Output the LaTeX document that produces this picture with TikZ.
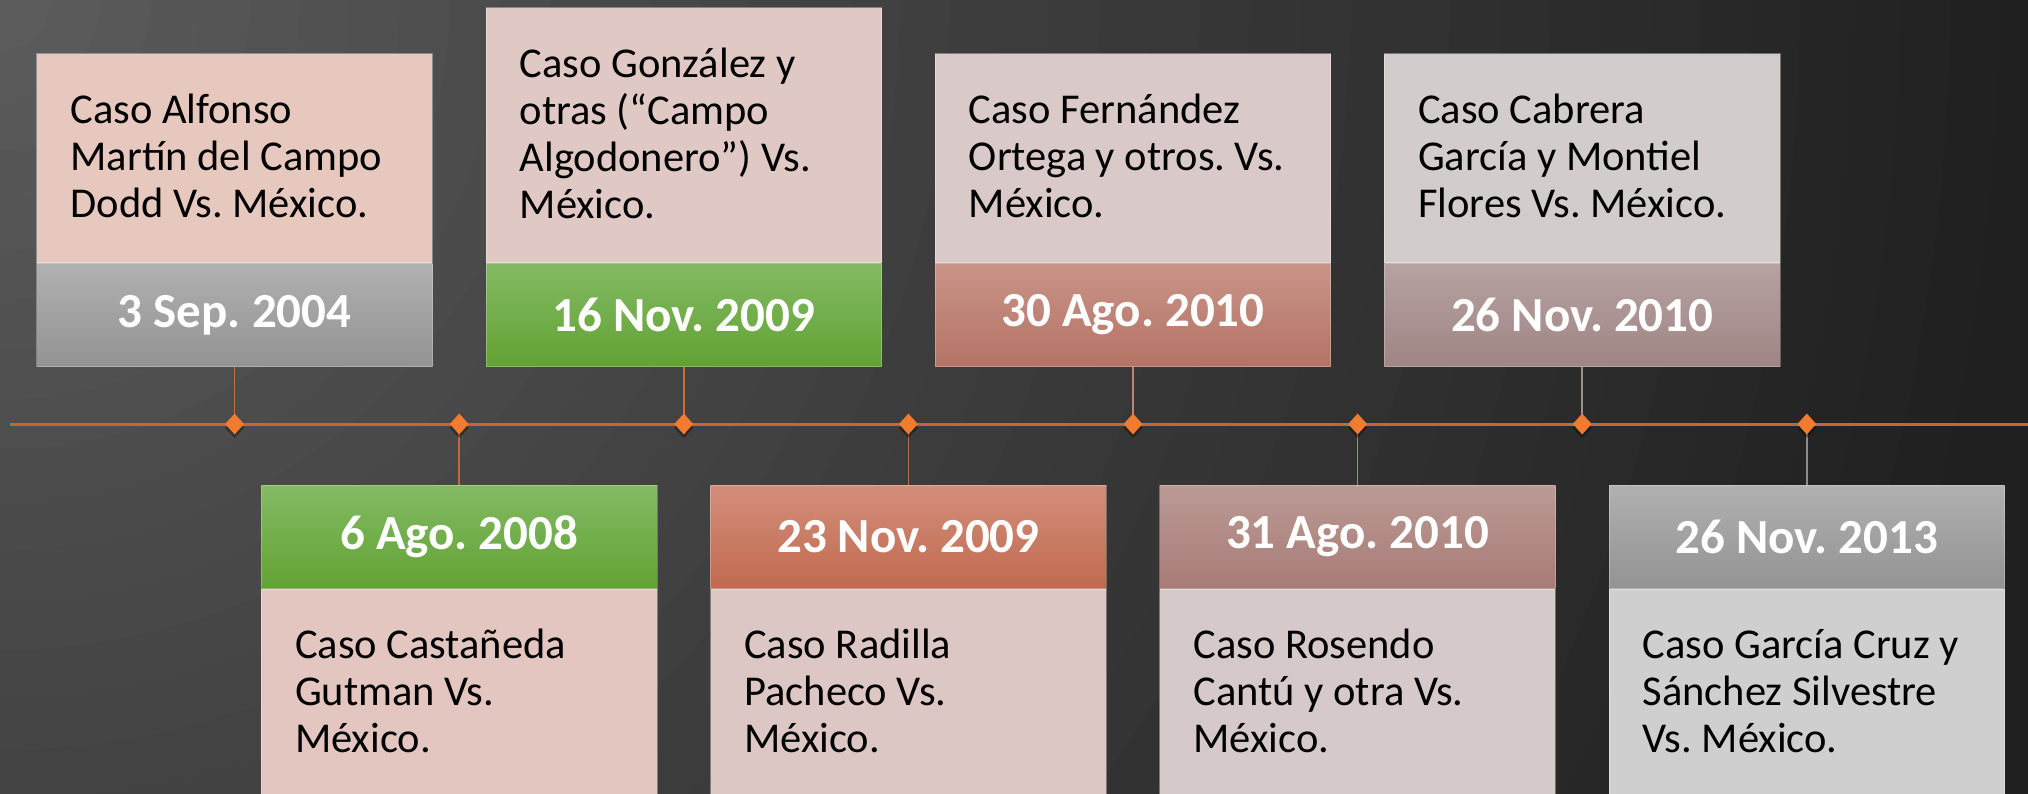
\documentclass[tikz,border=0pt]{standalone}
\usepackage{fontspec}
\setmainfont{Carlito}
\usetikzlibrary{shapes.geometric,calc}
\frenchspacing
\definecolor{tline}{HTML}{C8662E}
\definecolor{diaC}{HTML}{F27B30}
\definecolor{bgA}{HTML}{5E5E5E}
\definecolor{bgB}{HTML}{202020}
% text box fills
\definecolor{pA}{HTML}{E7C8BE}
\definecolor{pB}{HTML}{E2C6BF}
\definecolor{pC}{HTML}{E0C8C4}
\definecolor{pD}{HTML}{DDC7C4}
\definecolor{pE}{HTML}{D9C9C8}
\definecolor{pF}{HTML}{D6C9C9}
\definecolor{pG}{HTML}{D2CCCC}
\definecolor{pH}{HTML}{CFCFCF}
% band colours
\definecolor{grT}{HTML}{B0B0B0}\definecolor{grB}{HTML}{939393}
\definecolor{gnT}{HTML}{83BA64}\definecolor{gnB}{HTML}{62A233}
\definecolor{rdT}{HTML}{D38E7A}\definecolor{rdB}{HTML}{C06A4F}
\definecolor{fnT}{HTML}{C99488}\definecolor{fnB}{HTML}{B47365}
\definecolor{rsT}{HTML}{BB9A95}\definecolor{rsB}{HTML}{A87B76}
\definecolor{cbT}{HTML}{B6A2A1}\definecolor{cbB}{HTML}{9F8584}
% connector colours
\definecolor{cA}{HTML}{C8703C}
\definecolor{cB}{HTML}{BD6A40}
\definecolor{cC}{HTML}{C8703C}
\definecolor{cD}{HTML}{B86C52}
\definecolor{cE}{HTML}{C08272}
\definecolor{cF}{HTML}{B08680}
\definecolor{cG}{HTML}{9A9090}
\definecolor{cH}{HTML}{8C8C8C}
\newcommand{\casetext}[1]{\begin{tabular}[t]{@{}l@{}}#1\end{tabular}}
\tikzset{
  txtbox/.style={rectangle, draw=white, draw opacity=0.35, line width=1pt, minimum width=395.6pt, inner sep=0pt, anchor=north},
  band/.style={rectangle, draw=white, draw opacity=0.25, line width=1pt, minimum width=395.6pt, inner sep=0pt, anchor=north},
  datetxt/.style={text=white, font=\fontsize{49}{54}\selectfont\bfseries, inner sep=0pt},
  bodytxt/.style={text=black, font=\fontsize{42.5}{47}\selectfont, inner sep=0pt, anchor=base west},
  conn/.style={line width=1.6pt},
  tl/.style={tline, line width=3pt},
  dia/.style={diamond, fill=diaC, minimum width=19pt, minimum height=21pt, inner sep=0pt}
}
\begin{document}
\begin{tikzpicture}[x=1pt,y=-1pt]
\useasboundingbox (0,0) rectangle (2028,793);
\begin{scope}
\clip (0,0) rectangle (2028,793);
\fill[bgB] (0,0) rectangle (2028,793);
\foreach \k in {44,43,...,1}{
  \pgfmathsetmacro\pc{min(100,100*((\k*50/2050)^0.9))}
  \fill[bgB!\pc!bgA] (0,0) circle (\k*50pt);
}

% ---------- top events ----------
\node[txtbox, fill=pA, minimum height=208.7pt] (t1) at (234.6,53.3) {};
\node[band, top color=grT, bottom color=grB, minimum height=103pt] (b1) at (t1.south) {};
\node[txtbox, fill=pC, minimum height=254.7pt] (t2) at (683.8,7.3) {};
\node[band, top color=gnT, bottom color=gnB, minimum height=103pt] (b2) at (t2.south) {};
\node[txtbox, fill=pE, minimum height=208.7pt] (t3) at (1133.0,53.3) {};
\node[band, top color=fnT, bottom color=fnB, minimum height=103pt] (b3) at (t3.south) {};
\node[txtbox, fill=pG, minimum height=208.7pt] (t4) at (1582.2,53.3) {};
\node[band, top color=cbT, bottom color=cbB, minimum height=103pt] (b4) at (t4.south) {};

% ---------- bottom events ----------
\node[band, top color=gnT, bottom color=gnB, minimum height=102.7pt] (b5) at (459.2,485) {};
\node[txtbox, fill=pB, minimum height=215pt] (t5) at (b5.south) {};
\node[band, top color=rdT, bottom color=rdB, minimum height=102.7pt] (b6) at (908.4,485) {};
\node[txtbox, fill=pD, minimum height=215pt] (t6) at (b6.south) {};
\node[band, top color=rsT, bottom color=rsB, minimum height=102.7pt] (b7) at (1357.6,485) {};
\node[txtbox, fill=pF, minimum height=215pt] (t7) at (b7.south) {};
\node[band, top color=grT, bottom color=grB, minimum height=102.7pt] (b8) at (1806.8,485) {};
\node[txtbox, fill=pH, minimum height=215pt] (t8) at (b8.south) {};

% ---------- timeline ----------
\coordinate (tlS) at (10,424);
\coordinate (tlE) at (2028,424);
\coordinate (p1) at (234.6,424);
\coordinate (p2) at (459.2,424);
\coordinate (p3) at (683.8,424);
\coordinate (p4) at (908.4,424);
\coordinate (p5) at (1133.0,424);
\coordinate (p6) at (1357.6,424);
\coordinate (p7) at (1582.2,424);
\coordinate (p8) at (1806.8,424);
\draw[conn, cA] (b1.south) -- (p1);
\draw[conn, cB] (b5.north) -- (p2);
\draw[conn, cC] (b2.south) -- (p3);
\draw[conn, cD] (b6.north) -- (p4);
\draw[conn, cE] (b3.south) -- (p5);
\draw[conn, cF] (b7.north) -- (p6);
\draw[conn, cG] (b4.south) -- (p7);
\draw[conn, cH] (b8.north) -- (p8);
\draw[tl] (tlS) -- (tlE);
\foreach \i in {1,...,8}{
  \fill[black, opacity=0.35] ($(p\i)+(0,4)$) +(0,-10) -- +(9.5,0) -- +(0,10) -- +(-9.5,0) -- cycle;
  \node[dia] (d\i) at (p\i) {};
}

% ---------- texts ----------
\node[datetxt] (dt1) at (b1.center) {3 Sep. 2004};
\node[datetxt] (dt2) at (b2.center) {16 Nov. 2009};
\node[datetxt] (dt3) at (b3.center) {30 Ago. 2010};
\node[datetxt] (dt4) at (b4.center) {26 Nov. 2010};
\node[datetxt] (dt5) at (b5.center) {6 Ago. 2008};
\node[datetxt] (dt6) at (b6.center) {23 Nov. 2009};
\node[datetxt] (dt7) at (b7.center) {31 Ago. 2010};
\node[datetxt] (dt8) at (b8.center) {26 Nov. 2013};

\node[bodytxt] (x1) at ($(t1.north west)+(34,70)$) {\casetext{Caso Alfonso\\Martín del Campo\\Dodd Vs. México.}};
\node[bodytxt] (x2) at ($(t2.north west)+(34,70)$) {\casetext{Caso González y\\otras (“Campo\\Algodonero”) Vs.\\México.}};
\node[bodytxt] (x3) at ($(t3.north west)+(34,70)$) {\casetext{Caso Fernández\\Ortega y otros. Vs.\\México.}};
\node[bodytxt] (x4) at ($(t4.north west)+(34,70)$) {\casetext{Caso Cabrera\\García y Montiel\\Flores Vs. México.}};
\node[bodytxt] (x5) at ($(t5.north west)+(34,70)$) {\casetext{Caso Castañeda\\Gutman Vs.\\México.}};
\node[bodytxt] (x6) at ($(t6.north west)+(34,70)$) {\casetext{Caso Radilla\\Pacheco Vs.\\México.}};
\node[bodytxt] (x7) at ($(t7.north west)+(34,70)$) {\casetext{Caso Rosendo\\Cantú y otra Vs.\\México.}};
\node[bodytxt] (x8) at ($(t8.north west)+(34,70)$) {\casetext{Caso García Cruz y\\Sánchez Silvestre\\Vs. México.}};
\end{scope}
\end{tikzpicture}
\end{document}
